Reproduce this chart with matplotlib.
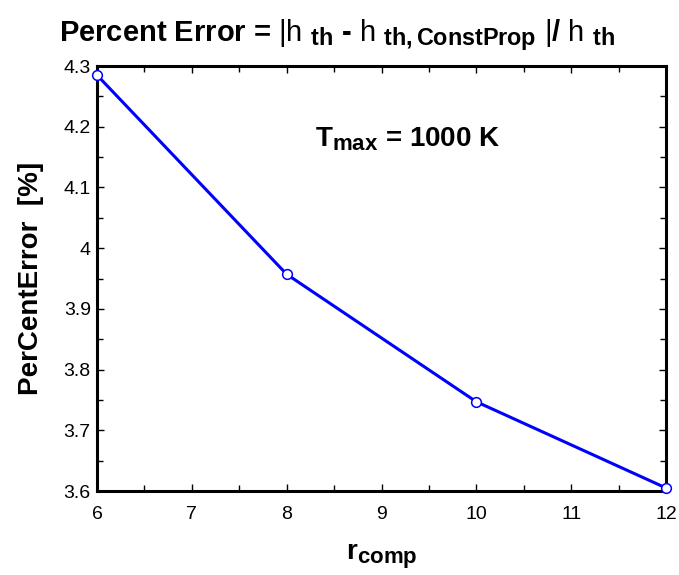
import matplotlib
matplotlib.use("Agg")
import matplotlib.pyplot as plt
import matplotlib._mathtext as mathtext_impl
from matplotlib.ticker import MultipleLocator

plt.rcParams["font.family"] = "Liberation Sans"
plt.rcParams["mathtext.fontset"] = "custom"
plt.rcParams["mathtext.rm"] = "Liberation Sans"
plt.rcParams["mathtext.bf"] = "Liberation Sans:bold"
plt.rcParams["mathtext.it"] = "Liberation Sans:italic"
mathtext_impl.SHRINK_FACTOR = 0.8  # subscripts nearly full size, like the original

r_comp = [6, 8, 10, 12]
percent_error = [4.285, 3.957, 3.747, 3.605]

fig = plt.figure(figsize=(6.79, 5.75), dpi=100)
ax = fig.add_axes([97 / 679, 84 / 575, 569 / 679, 425 / 575])

ax.plot(r_comp, percent_error, color="#0000ff", linewidth=2.2, marker="o",
        markersize=7, markerfacecolor="white", markeredgecolor="#0000ff",
        markeredgewidth=1.1, clip_on=False, zorder=3)

ax.set_xlim(6, 12)
ax.set_ylim(3.6, 4.3)
ax.xaxis.set_major_locator(MultipleLocator(1))
ax.xaxis.set_minor_locator(MultipleLocator(0.5))
ax.yaxis.set_major_locator(MultipleLocator(0.1))
ax.yaxis.set_minor_locator(MultipleLocator(0.05))
ax.yaxis.set_major_formatter(plt.FuncFormatter(lambda v, p: f"{v:g}"))
ax.tick_params(which="both", direction="in", top=True, right=True, labelsize=14)
ax.tick_params(which="major", length=5, width=1)
ax.tick_params(which="minor", length=4.3, width=1)
ax.tick_params(axis="x", pad=11)
ax.tick_params(axis="y", pad=4.5)
for s in ax.spines.values():
    s.set_linewidth(2.2)

ax.set_xlabel(r"r$_{\mathbf{comp}}$", fontsize=20, fontweight="bold", labelpad=14)
ax.set_ylabel("PerCentError  [%]", fontsize=20, fontweight="bold", labelpad=14)
fig.text(0.497, 0.928,
         r"Percent Error = $\mathrm{|h}\ {}_{\mathbf{th}}$ - $\mathrm{h}\ {}_{\mathbf{th,ConstProp}}$ $\mathrm{|}$/ $\mathrm{h}\ {}_{\mathbf{th}}$",
         fontsize=21, fontweight="bold", ha="center", va="baseline")
ax.text(9.28, 4.18, r"T$_{\mathbf{max}}$ = 1000 K", fontsize=20, fontweight="bold",
        ha="center", va="center")

fig.savefig("out.png", dpi=100)
